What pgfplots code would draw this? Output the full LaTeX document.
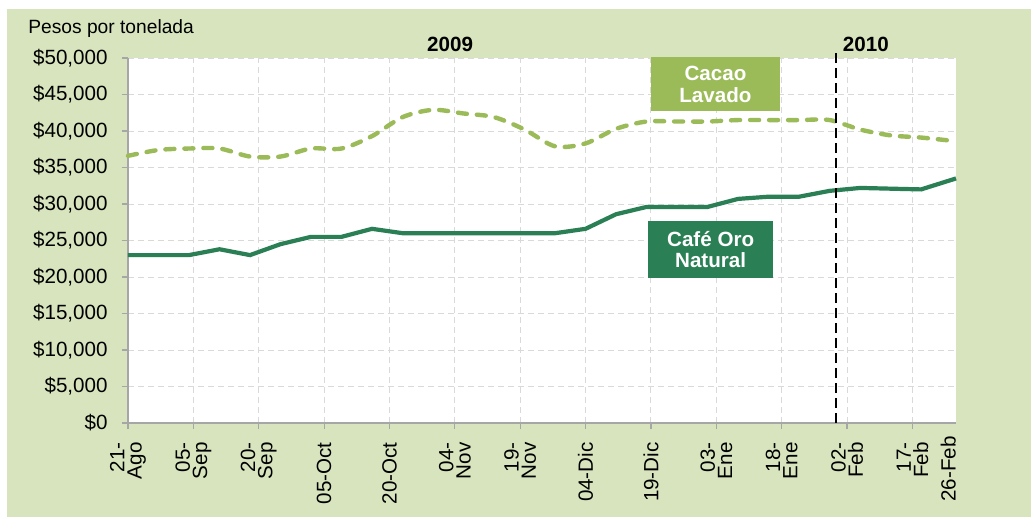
\documentclass[border=0pt]{standalone}
\usepackage{pgfplots}
\pgfplotsset{compat=1.18}
\usepackage{fontspec}
\setmainfont{Liberation Sans}
\definecolor{bgg}{HTML}{D7E4BD}
\definecolor{cacao}{HTML}{9BBB59}
\definecolor{cafe}{HTML}{2B7F55}
\definecolor{gridc}{HTML}{D9D9D9}
\definecolor{axc}{HTML}{A6A6A6}
\newcommand\tickfont{\fontsize{10.3}{8.6}\selectfont}
\begin{document}
\begin{tikzpicture}
\useasboundingbox (-64pt,-47.5pt) rectangle (451.5pt,211.5pt);
\fill[white] (-64pt,-47.5pt) rectangle (451.5pt,211.5pt);
\fill[bgg] (-60.5pt,-47pt) rectangle (451.5pt,207pt);
\begin{axis}[
  at={(0,0)}, anchor=south west,
  scale only axis, width=414pt, height=182.5pt,
  xmin=0, xmax=190, ymin=0, ymax=50000,
  scaled y ticks=false,
  axis lines=left, axis line style={-, draw=axc, line width=0.6pt},
  tick align=outside, major tick length=3pt, tick style={axc, line width=0.6pt},
  xtick={0,15,...,180},
  xticklabels={{21-\\Ago},{05-\\Sep},{20-\\Sep},{05-Oct},{20-Oct},{04-\\Nov},{19-\\Nov},{04-Dic},{19-Dic},{03-\\Ene},{18-\\Ene},{02-\\Feb},{17-\\Feb}},
  extra x ticks={188.2}, extra x tick labels={26-Feb},
  extra x tick style={grid=none, major tick length=0pt},
  ytick={0,5000,...,50000},
  yticklabels={{\$0},{\$5,000},{\$10,000},{\$15,000},{\$20,000},{\$25,000},{\$30,000},{\$35,000},{\$40,000},{\$45,000},{\$50,000}},
  grid=major, major grid style={gridc, line width=0.5pt, dash pattern=on 3pt off 2pt},
  axis background/.style={fill=white},
  xticklabel shift=6.5pt, yticklabel shift=7pt,
  xticklabel style={rotate=90, anchor=east, align=right, inner sep=0pt, font=\tickfont},
  yticklabel style={anchor=east, inner sep=0pt, font=\tickfont},
  clip=false,
]
\addplot[cacao, line width=2.2pt, smooth, dash pattern=on 4.5pt off 5pt, line cap=round] coordinates {
(0,36600) (7,37400) (14,37600) (21,37600) (28,36500) (35,36500) (42,37600) (49,37600)
(56,39300) (63,41900) (70,42900) (77,42400) (84,41900) (91,40200) (98,37900) (105,38300)
(112,40300) (119,41300) (126,41300) (133,41300) (140,41500) (147,41500) (154,41500) (161,41500)
(168,40200) (175,39400) (182,39100) (190,38600)};
\addplot[cafe, line width=2.1pt] coordinates {
(0,23000) (7,23000) (14,23000) (21,23800) (28,23000) (35,24500) (42,25500) (49,25500)
(56,26600) (63,26000) (70,26000) (77,26000) (84,26000) (91,26000) (98,26000) (105,26600)
(112,28600) (119,29600) (126,29600) (133,29600) (140,30700) (147,31000) (154,31000) (161,31800)
(168,32200) (175,32100) (182,32000) (190,33500)};
\draw[black, line width=1pt, dash pattern=on 5pt off 2.5pt] (axis cs:162.5,0) -- (axis cs:162.5,51000);
\node[font=\bfseries\fontsize{10.3}{12}\selectfont] at (axis cs:73.9,51900) {2009};
\node[font=\bfseries\fontsize{10.3}{12}\selectfont] at (axis cs:169.3,51800) {2010};
\node[fill=cacao, text=white, minimum width=64.5pt, minimum height=27pt, align=center, inner sep=0pt, font=\bfseries\fontsize{10.3}{11}\selectfont] at (axis cs:134.8,46400) {Cacao\\Lavado};
\node[fill=cafe, text=white, minimum width=62.5pt, minimum height=28.5pt, align=center, inner sep=0pt, font=\bfseries\fontsize{10.3}{10.5}\selectfont] at (axis cs:133.7,23700) {Café Oro\\Natural};
\end{axis}
\node[anchor=west, inner sep=0pt, font=\fontsize{9.6}{11}\selectfont] at (-50pt,197pt) {Pesos por tonelada};
\end{tikzpicture}
\end{document}
